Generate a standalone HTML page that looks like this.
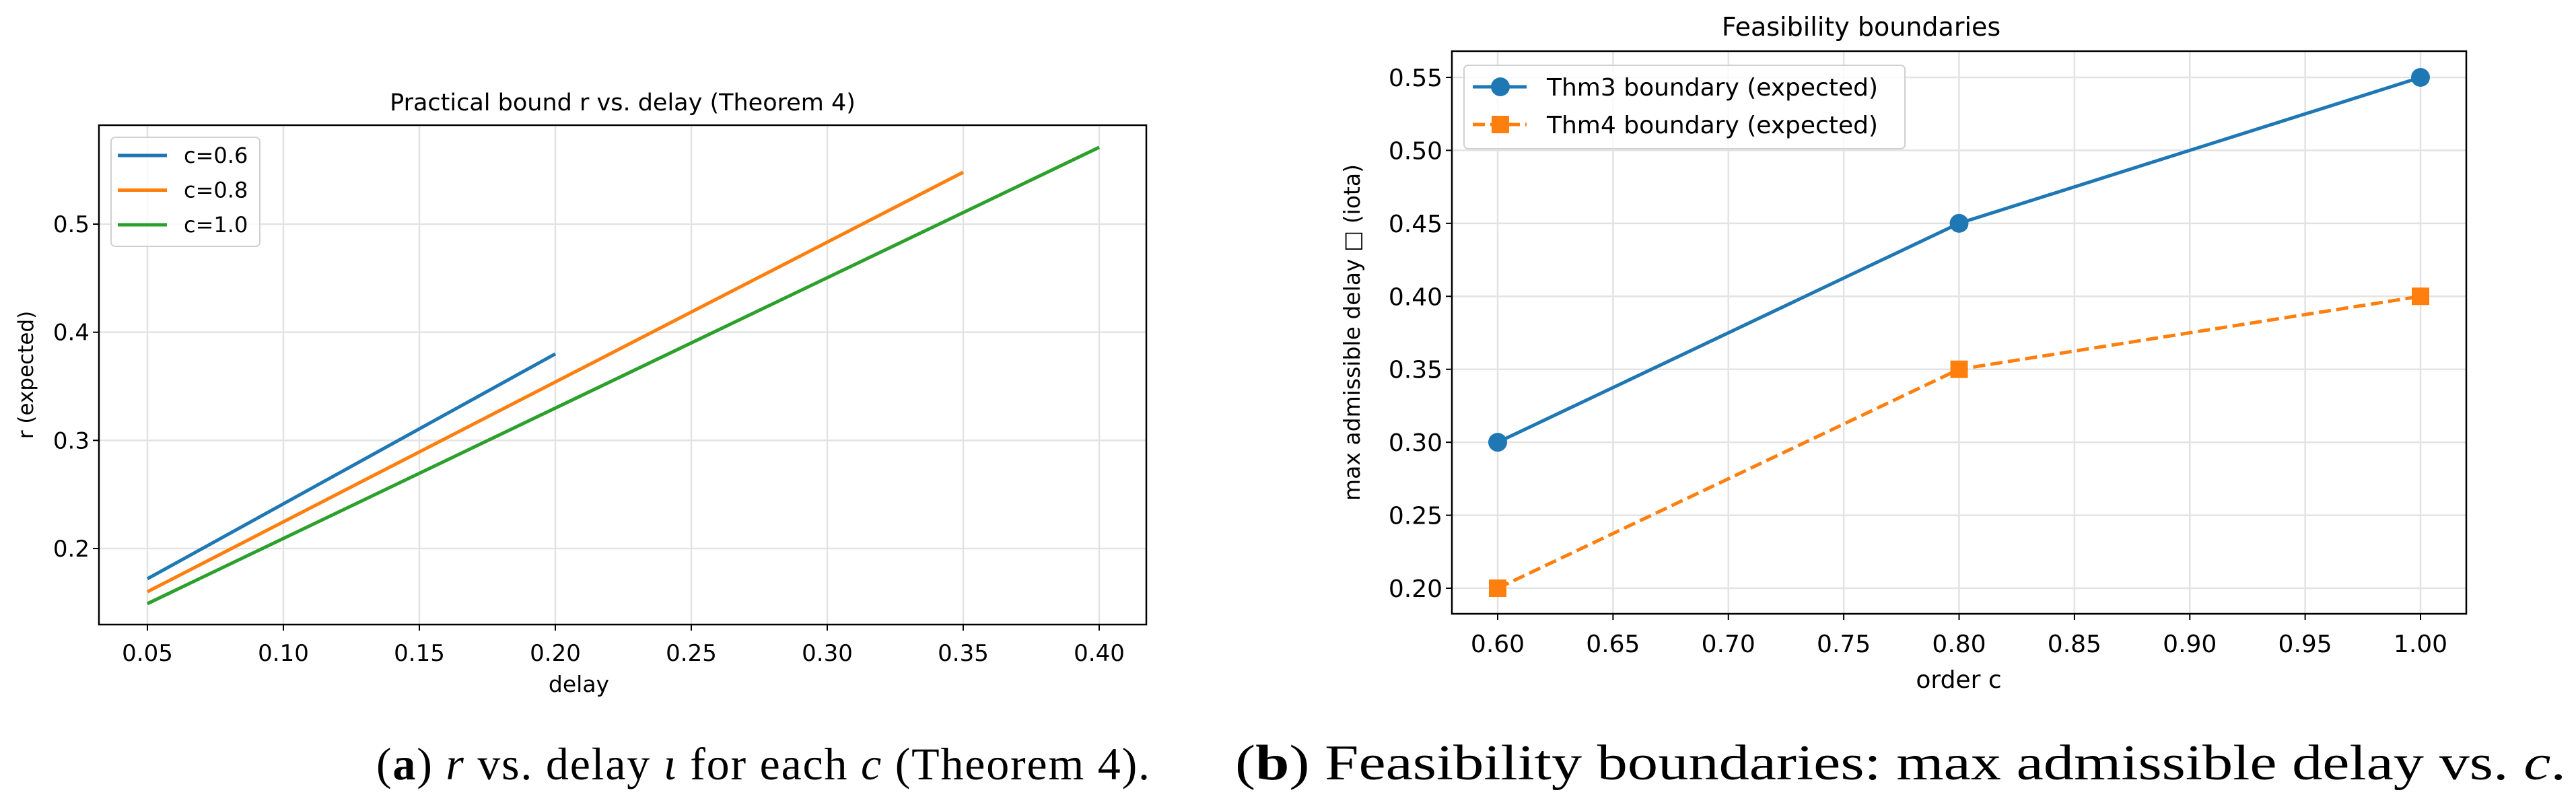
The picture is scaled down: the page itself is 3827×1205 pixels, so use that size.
<!DOCTYPE html>
<html><head><meta charset="utf-8"><style>
body{margin:0;background:#fff;width:3827px;height:1205px;overflow:hidden}
svg{display:block}
text{font-family:"DejaVu Sans","Liberation Sans",sans-serif;fill:#000}
.cap{font-family:"Liberation Serif",serif}
</style></head><body>
<svg id="s" width="3827" height="1205" xmlns="http://www.w3.org/2000/svg">
<text class="cap" x="559" y="1158" font-size="68" textLength="1149" lengthAdjust="spacing">(<tspan font-weight="bold">a</tspan>) <tspan font-style="italic">r</tspan> vs. delay <tspan font-style="italic">ι</tspan> for each <tspan font-style="italic">c</tspan> (Theorem 4).</text>
<text class="cap" x="1835" y="1158" font-size="74" textLength="1977" lengthAdjust="spacingAndGlyphs">(<tspan font-weight="bold">b</tspan>) Feasibility boundaries: max admissible delay vs. <tspan font-style="italic">c</tspan>.</text>
</svg>
<script>
const NS="http://www.w3.org/2000/svg";const svg=document.getElementById('s');
function mk(t,a,p){const e=document.createElementNS(NS,t);for(const k in a)e.setAttribute(k,a[k]);(p||svg).appendChild(e);return e;}
// Chart A data
const aDelayTicks=[0.05,0.10,0.15,0.20,0.25,0.30,0.35,0.40];
const aRTicks=[0.2,0.3,0.4,0.5];
const aSeriesNames=["c=0.6","c=0.8","c=1.0"];
const aX06=[0.05,0.20];const aY06=[0.172,0.380];
const aX08=[0.05,0.35];const aY08=[0.160,0.548];
const aX10=[0.05,0.40];const aY10=[0.149,0.571];
// Chart B data
const bOrderTicks=[0.60,0.65,0.70,0.75,0.80,0.85,0.90,0.95,1.00];
const bDelayTicks=[0.20,0.25,0.30,0.35,0.40,0.45,0.50,0.55];
const bC=[0.6,0.8,1.0];
const bThm3=[0.30,0.45,0.55];
const bThm4=[0.20,0.35,0.40];
const bNames=["Thm3 boundary (expected)","Thm4 boundary (expected)"];
const C=["#1f77b4","#ff7f0e","#2ca02c"];

// ---- Chart A
(function(){
const L=147,R=1703,T=186,B=928;
const xs=v=>219+(v-0.05)/0.35*(1633-219);
const ys=v=>815-(v-0.2)/0.3*(815-333);
const g=mk('g',{});
aDelayTicks.forEach(t=>{const l=mk('line',{x1:xs(t),x2:xs(t),y1:T,y2:B,stroke:'#e3e3e3','stroke-width':2.5},g);
 mk('line',{x1:xs(t),x2:xs(t),y1:B,y2:B+9,stroke:'#000','stroke-width':2},g);
 const tx=mk('text',{x:xs(t),y:982,'font-size':34,'text-anchor':'middle'},g);tx.textContent=t.toFixed(2);});
aRTicks.forEach(t=>{const l=mk('line',{x1:L,x2:R,y1:ys(t),y2:ys(t),stroke:'#e3e3e3','stroke-width':2.5},g);
 mk('line',{x1:L-9,x2:L,y1:ys(t),y2:ys(t),stroke:'#000','stroke-width':2},g);
 const tx=mk('text',{x:L-14,y:ys(t)+12,'font-size':34,'text-anchor':'end'},g);tx.textContent=t.toFixed(1);});
[[aX06,aY06],[aX08,aY08],[aX10,aY10]].forEach((s,i)=>{const p=mk('polyline',{points:s[0].map((x,j)=>xs(x)+','+ys(s[1][j])).join(' '),fill:'none',stroke:C[i],'stroke-width':5},g);});
const fr=mk('rect',{x:L,y:T,width:R-L,height:B-T,fill:'none',stroke:'#000','stroke-width':2.5},g);
const lg=mk('g',{},g);
mk('rect',{x:165,y:204,width:221,height:162,rx:6,fill:'#fff','fill-opacity':0.8,stroke:'#d0d0d0','stroke-width':2},lg);
aSeriesNames.forEach((n,i)=>{const y=231+i*51.5;mk('line',{x1:175,x2:248,y1:y,y2:y,stroke:C[i],'stroke-width':5},lg);const t=mk('text',{x:273,y:y+11,'font-size':32},lg);t.textContent=n;});
const ti=mk('text',{x:925,y:164,'font-size':35,'text-anchor':'middle'},g);ti.textContent='Practical bound r vs. delay (Theorem 4)';
const xl=mk('text',{x:860,y:1028,'font-size':33,'text-anchor':'middle'},g);xl.textContent='delay';
const yl=mk('text',{x:0,y:0,'font-size':31,'text-anchor':'middle',transform:'translate(49,557) rotate(-90)'},g);yl.textContent='r (expected)';
})();

// ---- Chart B
(function(){
const L=2157,R=3664,T=76,B=912;
const xs=v=>2225+(v-0.6)/0.4*(3596-2225);
const ys=v=>874-(v-0.2)/0.35*(874-115);
const g=mk('g',{});
bOrderTicks.forEach(t=>{const l=mk('line',{x1:xs(t),x2:xs(t),y1:T,y2:B,stroke:'#e3e3e3','stroke-width':2.5},g);
 mk('line',{x1:xs(t),x2:xs(t),y1:B,y2:B+9,stroke:'#000','stroke-width':2},g);
 const tx=mk('text',{x:xs(t),y:969,'font-size':36,'text-anchor':'middle'},g);tx.textContent=t.toFixed(2);});
bDelayTicks.forEach(t=>{const l=mk('line',{x1:L,x2:R,y1:ys(t),y2:ys(t),stroke:'#e3e3e3','stroke-width':2.5},g);
 mk('line',{x1:L-9,x2:L,y1:ys(t),y2:ys(t),stroke:'#000','stroke-width':2},g);
 const tx=mk('text',{x:L-14,y:ys(t)+13,'font-size':36,'text-anchor':'end'},g);tx.textContent=t.toFixed(2);});
const p3=mk('polyline',{points:bC.map((c,i)=>xs(c)+','+ys(bThm3[i])).join(' '),fill:'none',stroke:C[0],'stroke-width':5},g);
bC.forEach((c,i)=>{const m=mk('circle',{cx:xs(c),cy:ys(bThm3[i]),r:14,fill:C[0]},g);});
const p4=mk('polyline',{points:bC.map((c,i)=>xs(c)+','+ys(bThm4[i])).join(' '),fill:'none',stroke:C[1],'stroke-width':5,'stroke-dasharray':'18 8'},g);
bC.forEach((c,i)=>{const m=mk('rect',{x:xs(c)-13,y:ys(bThm4[i])-13,width:26,height:26,fill:C[1]},g);});
const fr=mk('rect',{x:L,y:T,width:R-L,height:B-T,fill:'none',stroke:'#000','stroke-width':2.5},g);
const lg=mk('g',{},g);
mk('rect',{x:2175,y:97,width:655,height:124,rx:6,fill:'#fff','fill-opacity':0.8,stroke:'#d0d0d0','stroke-width':2},lg);
[129,185].forEach((y,i)=>{mk('line',{x1:2188,x2:2268,y1:y,y2:y,stroke:C[i],'stroke-width':5,'stroke-dasharray':i?'18 8':'none'},lg);
 if(i==0)mk('circle',{cx:2229,cy:y,r:14,fill:C[0]},lg);else mk('rect',{x:2216,y:y-13,width:26,height:26,fill:C[1]},lg);
 const t=mk('text',{x:2298,y:y+13,'font-size':36},lg);t.textContent=bNames[i];});
const ti=mk('text',{x:2765,y:53,'font-size':38,'text-anchor':'middle'},g);ti.textContent='Feasibility boundaries';
const xl=mk('text',{x:2910,y:1022,'font-size':36,'text-anchor':'middle'},g);xl.textContent='order c';
const yl=mk('text',{x:0,y:0,'font-size':33,'text-anchor':'middle',transform:'translate(2020,494) rotate(-90)'},g);yl.textContent='max admissible delay \u25A1 (iota)';
})();
</script>
</body></html>
